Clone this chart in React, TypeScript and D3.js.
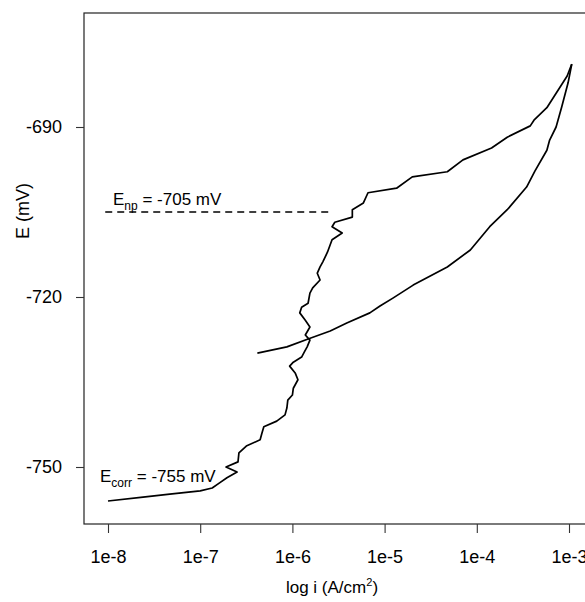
import React, { useRef, useEffect } from 'react';
import * as d3 from 'd3';

// forward scan (log10 of current density, potential in mV)
const forwardLogI = [
  -8.0, -7.62, -7.33, -7.0, -6.87, -6.79, -6.71, -6.6, -6.72, -6.59, -6.58, -6.5, -6.35,
  -6.33, -6.31, -6.17, -6.08, -6.06, -6.05, -6.0, -5.99, -5.94, -5.97, -6.03, -5.99,
  -5.9, -5.87, -5.84, -5.81, -5.86, -5.81, -5.86, -5.92, -5.9, -5.83, -5.81, -5.78,
  -5.7, -5.73, -5.7, -5.67, -5.62, -5.57, -5.46, -5.57, -5.54, -5.35, -5.35, -5.23,
  -5.18, -4.87, -4.7, -4.32, -4.15, -3.84, -3.67, -3.42, -3.38, -3.24, -3.02, -2.97,
];
const forwardE = [
  -756.0, -755.3, -754.8, -754.2, -753.7, -752.8, -751.9, -750.9, -750.0, -749.1, -747.5,
  -746.3, -745.2, -744.0, -742.9, -741.9, -740.8, -739.6, -738.2, -737.3, -736.1, -734.6,
  -733.4, -732.2, -731.5, -730.6, -729.7, -728.8, -727.6, -726.7, -725.3, -724.1, -722.8,
  -721.8, -721.1, -719.3, -718.4, -717.0, -715.8, -714.7, -713.8, -712.1, -709.9, -708.7,
  -707.6, -706.8, -705.9, -704.6, -703.4, -701.6, -700.8, -698.8, -697.9, -695.8, -693.7,
  -691.8, -689.8, -688.8, -686.6, -681.0, -678.9,
];

// reverse scan
const reverseLogI = [
  -2.97, -3.01, -3.08, -3.14, -3.21, -3.24, -3.37, -3.46, -3.67, -3.86, -4.07, -4.32,
  -4.69, -4.91, -5.05, -5.16, -5.41, -5.59, -5.83, -6.06, -6.38,
];
const reverseE = [
  -678.9, -682.2, -686.5, -690.0, -692.3, -694.1, -697.8, -700.6, -704.6, -707.6, -711.7,
  -714.7, -717.9, -720.2, -721.6, -722.8, -724.6, -726.0, -727.4, -728.8, -729.9,
];

const xTicks = [-8, -7, -6, -5, -4, -3];
const yTicks = [-690, -720, -750];

const Enp = -705;
const EnpRange = [-8.03, -5.59];

const FONT = '"Liberation Sans", Arial, Helvetica, sans-serif';

const App = () => {
  const ref = useRef<SVGSVGElement>(null);

  useEffect(() => {
    const frame = { left: 84, right: 620, top: 13, bottom: 524 };

    const svg = d3.select(ref.current);
    svg.selectAll('*').remove();

    const x = d3.scaleLog().domain([1e-8, 1e-3]).range([108, 569]);
    const y = d3.scaleLinear().domain([-750, -690]).range([467, 127]);

    svg.append('rect')
      .attr('x', frame.left)
      .attr('y', frame.top)
      .attr('width', frame.right - frame.left)
      .attr('height', frame.bottom - frame.top)
      .attr('fill', 'none')
      .attr('stroke', '#222')
      .attr('stroke-width', 1.2);

    const xAxis = svg.append('g')
      .attr('transform', `translate(0,${frame.bottom})`)
      .call(
        d3.axisBottom(x)
          .tickValues(xTicks.map(d => Math.pow(10, d)))
          .tickFormat(d => '1e' + Math.round(Math.log10(+d)))
          .tickSize(9)
          .tickSizeOuter(0)
          .tickPadding(17)
      );
    xAxis.select('.domain').remove();

    const yAxis = svg.append('g')
      .attr('transform', `translate(${frame.left},0)`)
      .call(
        d3.axisLeft(y)
          .tickValues(yTicks)
          .tickFormat(d => String(d))
          .tickSize(8)
          .tickSizeOuter(0)
          .tickPadding(14)
      );
    yAxis.select('.domain').remove();

    svg.selectAll('.tick line').attr('stroke', '#333').attr('stroke-width', 1.1);
    svg.selectAll('.tick text')
      .attr('font-family', FONT)
      .attr('font-size', 18)
      .attr('fill', '#000');

    const line = d3.line<[number, number]>()
      .x(d => x(Math.pow(10, d[0])))
      .y(d => y(d[1]));

    const forward = forwardLogI.map((v, i) => [v, forwardE[i]] as [number, number]);
    const reverse = reverseLogI.map((v, i) => [v, reverseE[i]] as [number, number]);

    svg.append('path')
      .datum(forward)
      .attr('d', line)
      .attr('fill', 'none')
      .attr('stroke', '#000')
      .attr('stroke-width', 1.7)
      .attr('stroke-linejoin', 'round');

    svg.append('path')
      .datum(reverse)
      .attr('d', line)
      .attr('fill', 'none')
      .attr('stroke', '#000')
      .attr('stroke-width', 1.7)
      .attr('stroke-linejoin', 'round');

    svg.append('line')
      .attr('x1', x(Math.pow(10, EnpRange[0])))
      .attr('x2', x(Math.pow(10, EnpRange[1])))
      .attr('y1', y(Enp))
      .attr('y2', y(Enp))
      .attr('stroke', '#000')
      .attr('stroke-width', 1.3)
      .attr('stroke-dasharray', '7,5');

    const enp = svg.append('text')
      .attr('x', 113)
      .attr('y', 205)
      .attr('font-family', FONT)
      .attr('font-size', 17);
    enp.append('tspan').text('E');
    enp.append('tspan').attr('dy', 5).attr('font-size', 12).text('np');
    enp.append('tspan').attr('dy', -5).text(' = -705 mV');

    const ecorr = svg.append('text')
      .attr('x', 100)
      .attr('y', 482)
      .attr('font-family', FONT)
      .attr('font-size', 17);
    ecorr.append('tspan').text('E');
    ecorr.append('tspan').attr('dy', 5).attr('font-size', 12).text('corr');
    ecorr.append('tspan').attr('dy', -5).text(' = -755 mV');

    const xl = svg.append('text')
      .attr('x', 332)
      .attr('y', 593)
      .attr('text-anchor', 'middle')
      .attr('font-family', FONT)
      .attr('font-size', 17);
    xl.append('tspan').text('log i (A/cm');
    xl.append('tspan').attr('dy', -7).attr('font-size', 11).text('2');
    xl.append('tspan').attr('dy', 7).text(')');

    svg.append('text')
      .attr('transform', 'translate(29,211) rotate(-90)')
      .attr('text-anchor', 'middle')
      .attr('font-family', FONT)
      .attr('font-size', 18)
      .text('E (mV)');
  }, []);

  return (
    <svg
      ref={ref}
      width={585}
      height={602}
      style={{ position: 'absolute', left: 0, top: 0, background: '#fff' }}
    />
  );
};

export default App;
